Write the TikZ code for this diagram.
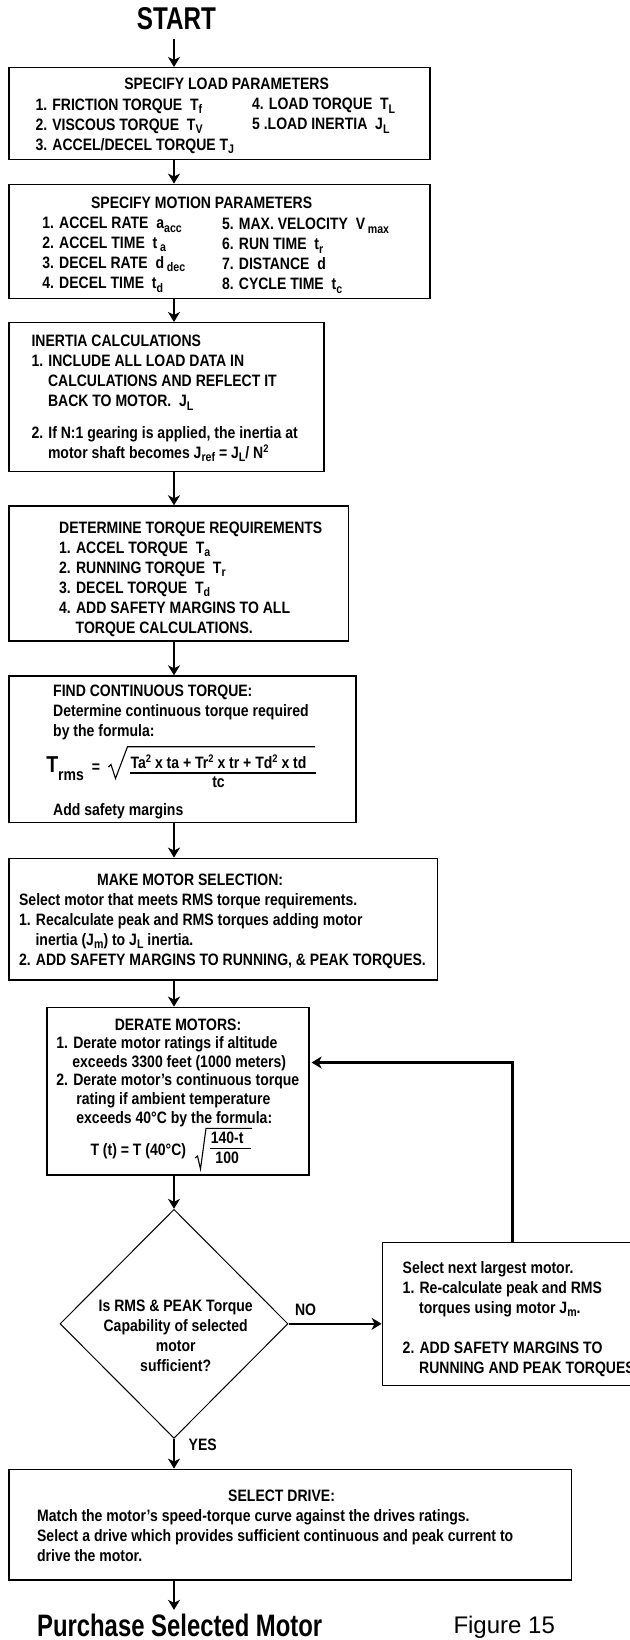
\documentclass[tikz,border=0pt]{standalone}
\usepackage{fontspec}
\setmainfont{Liberation Sans}[FakeStretch=0.85]
\newfontfamily\headfont{Liberation Sans}[FakeStretch=0.77]
\newfontfamily\figfont{Liberation Sans}
\usetikzlibrary{positioning,fit,shapes.geometric,arrows.meta}

\newcommand\bodyfont{\fontsize{16.5}{20}\selectfont\bfseries}
\newcommand\sbs[1]{\raisebox{-3.5pt}{\fontsize{12.5}{12.5}\selectfont #1}}
\newcommand\sps[1]{\raisebox{5.5pt}{\fontsize{11}{11}\selectfont #1}}
\newcommand\indt{\hspace*{16.5pt}}
\setlength\arrayrulewidth{1.2pt}

\begin{document}
\begin{tikzpicture}[x=1pt,y=-1pt,
    box/.style={draw,line width=1.4pt,inner sep=0pt},
    decision/.style={draw,diamond,line width=1pt,inner sep=0pt,
      minimum width=228pt,minimum height=229pt},
    ttl/.style={inner sep=0pt,anchor=base,font=\bodyfont},
    txt/.style={inner sep=0pt,anchor=base west,font=\bodyfont},
    radical/.style={line width=1.1pt,line join=miter},
    flow/.style={->,line width=2.6pt},
    >={Stealth[length=10pt,width=12pt,inset=3pt]}
  ]
  \useasboundingbox (0,0) rectangle (629,1640);
  \coordinate (spine) at (174,0);
  \coordinate (loopx) at (512.2,0);
  \coordinate (loopy) at (0,1062.5);

  \node[anchor=base,inner sep=0pt,font=\headfont\bfseries\fontsize{31.5}{32}\selectfont] (start) at (176.5,30) {START};

  % load parameters
  \node[box,fit={(8.8,67.7) (430,159.3)}] (load) {};
  \node[ttl] (loadttl) at (226.6,90) {SPECIFY LOAD PARAMETERS};
  \node[txt] (loadl) at (35.3,110.5) {\begin{tabular}[t]{@{}l@{}}
      1. FRICTION TORQUE~ T\sbs{f}\\
      2. VISCOUS TORQUE~ T\sbs{V}\\
      3. ACCEL/DECEL TORQUE T\sbs{J}\end{tabular}};
  \node[txt] (loadr) at (251.9,110) {\begin{tabular}[t]{@{}l@{}}
      4. LOAD TORQUE~ T\sbs{L}\\
      5 .LOAD INERTIA~ J\sbs{L}\end{tabular}};

  % motion parameters
  \node[box,fit={(8.8,184.3) (430,298.7)}] (motion) {};
  \node[ttl] (motionttl) at (201.6,208.3) {SPECIFY MOTION PARAMETERS};
  \node[txt] (motionl) at (42.1,228.5) {\begin{tabular}[t]{@{}l@{}}
      1. ACCEL RATE~ a\sbs{acc}\\
      2. ACCEL TIME~ t\,\sbs{a}\\
      3. DECEL RATE~ d\,\sbs{dec}\\
      4. DECEL TIME~ t\sbs{d}\end{tabular}};
  \node[txt] (motionr) at (221.8,229.5) {\begin{tabular}[t]{@{}l@{}}
      5. MAX. VELOCITY~ V\,\sbs{max}\\
      6. RUN TIME~ t\sbs{r}\\
      7. DISTANCE~ d\\
      8. CYCLE TIME~ t\sbs{c}\end{tabular}};

  % inertia
  \node[box,fit={(8.8,322.7) (324.1,471.7)}] (inertia) {};
  \node[txt] (inertiatxt) at (31.3,346.7) {\begin{tabular}[t]{@{}l@{}}
      INERTIA CALCULATIONS\\
      1. INCLUDE ALL LOAD DATA IN\\
      \indt CALCULATIONS AND REFLECT IT\\
      \indt BACK TO MOTOR.~ J\sbs{L}\\[11.6pt]
      2. If N:1 gearing is applied, the inertia at\\
      \indt motor shaft becomes J\sbs{ref} = J\sbs{L}/ N\sps{2}\end{tabular}};

  % torque requirements
  \node[box,fit={(8.8,506) (348.2,641)}] (torque) {};
  \node[txt] (torquetxt) at (59,533.3) {\begin{tabular}[t]{@{}l@{}}
      DETERMINE TORQUE REQUIREMENTS\\
      1. ACCEL TORQUE~ T\sbs{a}\\
      2. RUNNING TORQUE~ T\sbs{r}\\
      3. DECEL TORQUE~ T\sbs{d}\\
      4. ADD SAFETY MARGINS TO ALL\\
      \indt TORQUE CALCULATIONS.\end{tabular}};

  % continuous torque
  \node[box,fit={(8.8,676) (355.8,822.7)}] (rms) {};
  \node[txt] (rmstxt) at (53,696.7) {\begin{tabular}[t]{@{}l@{}}
      FIND CONTINUOUS TORQUE:\\
      Determine continuous torque required\\
      by the formula:\end{tabular}};
  \node[txt] (rmsT) at (46.1,772) {{\fontsize{23}{23}\selectfont T}\raisebox{-8pt}{rms}\hspace{8pt}=};
  \node[txt] (rmsfrac) at (129.4,768.3) {\begin{tabular}[t]{@{\hspace{1pt}}c@{\hspace{10pt}}}
      Ta\sps{2} x ta + Tr\sps{2} x tr + Td\sps{2} x td\\[-2pt]\hline
      tc\end{tabular}};
  \draw[radical] (108.5,767) -- (111,764.5) -- (115.5,778.5) -- (127.5,746.7) -- (315,746.7);
  \node[txt] (rmsnote) at (53,815) {Add safety margins};

  % motor selection
  \node[box,fit={(8.8,858.3) (437.2,980)}] (select) {};
  \node[ttl] (selectttl) at (190.1,885) {MAKE MOTOR SELECTION:};
  \node[txt] (selecttxt) at (18.9,905) {\begin{tabular}[t]{@{}l@{}}
      Select motor that meets RMS torque requirements.\\
      1. Recalculate peak and RMS torques adding motor\\
      \indt inertia (J\sbs{m}) to J\sbs{L} inertia.\\
      2. ADD SAFETY MARGINS TO RUNNING, \& PEAK TORQUES.\end{tabular}};

  % derating
  \node[box,fit={(46.9,1007.3) (308.9,1175)}] (derate) {};
  \node[ttl] (deratettl) at (178,1030) {DERATE MOTORS:};
  \node[txt,font=\fontsize{16.5}{18.75}\selectfont\bfseries] (deratetxt) at (56.2,1048.3) {\begin{tabular}[t]{@{}l@{}}
      1. Derate motor ratings if altitude\\
      \hspace*{16pt}exceeds 3300 feet (1000 meters)\\
      2. Derate motor's continuous torque\\
      \hspace*{20pt}rating if ambient temperature\\
      \hspace*{20pt}exceeds 40°C by the formula:\end{tabular}};
  \node[txt] (derateT) at (90.3,1155) {T (t) = T (40°C)};
  \node[txt] (deratefrac) at (209.6,1143.5) {\begin{tabular}[t]{@{\hspace{1pt}}c@{\hspace{7pt}}}
      140-t\\[-1.5pt]\hline
      100\end{tabular}};
  \draw[radical] (195,1158) -- (197.5,1156) -- (200.5,1169) -- (206,1128.3) -- (252,1128.3);

  % decision
  \node[decision] (check) at (174,1323.8) {};
  \node[inner sep=0pt,anchor=base,font=\bodyfont] (checktxt) at (175.7,1311.7) {\begin{tabular}[t]{@{}c@{}}
      Is RMS \& PEAK Torque\\
      Capability of selected\\
      motor\\
      sufficient?\end{tabular}};
  \node[txt] (no) at (294.8,1315.7) {NO};
  \node[txt] (yes) at (188.5,1450) {YES};

  % next motor
  \node[box,fit={(382.3,1242.3) (640,1385.7)}] (next) {};
  \node[txt] (nexttxt) at (402.5,1273.3) {\begin{tabular}[t]{@{}l@{}}
      Select next largest motor.\\
      1. Re-calculate peak and RMS\\
      \indt torques using motor J\sbs{m}.\\[20pt]
      2. ADD SAFETY MARGINS TO\\
      \indt RUNNING AND PEAK TORQUES\end{tabular}};

  % drive
  \node[box,fit={(8.8,1469.3) (571.6,1580)}] (drive) {};
  \node[ttl] (drivettl) at (281.6,1501.7) {SELECT DRIVE:};
  \node[txt] (drivetxt) at (36.9,1521.7) {\begin{tabular}[t]{@{}l@{}}
      Match the motor's speed-torque curve against the drives ratings.\\
      Select a drive which provides sufficient continuous and peak current to\\
      drive the motor.\end{tabular}};

  \node[anchor=base west,inner sep=0pt,font=\headfont\bfseries\fontsize{31}{32}\selectfont] (buy) at (36.9,1636.5) {Purchase Selected Motor};
  \node[anchor=base west,inner sep=0pt,font=\figfont\fontsize{24}{26}\selectfont] (fig) at (453.3,1633.3) {Figure 15};

  \draw[flow,shorten <=8pt] (start.south -| spine) -- (load.north -| spine);
  \draw[flow] (load.south -| spine) -- (motion.north -| spine);
  \draw[flow] (motion.south -| spine) -- (inertia.north -| spine);
  \draw[flow] (inertia.south -| spine) -- (torque.north -| spine);
  \draw[flow] (torque.south -| spine) -- (rms.north -| spine);
  \draw[flow] (rms.south -| spine) -- (select.north -| spine);
  \draw[flow] (select.south -| spine) -- (derate.north -| spine);
  \draw[flow] (derate.south -| check) -- (check.north);
  \draw[flow] (check.east) -- (check.east -| next.west);
  \draw[flow,line width=3pt,shorten >=2pt] (next.north -| loopx) |- (derate.east |- loopy);
  \draw[flow] (check.south) -- (drive.north -| check.south);
  \draw[flow,shorten >=4pt] (drive.south -| spine) -- (buy.north -| spine);
\end{tikzpicture}
\end{document}
